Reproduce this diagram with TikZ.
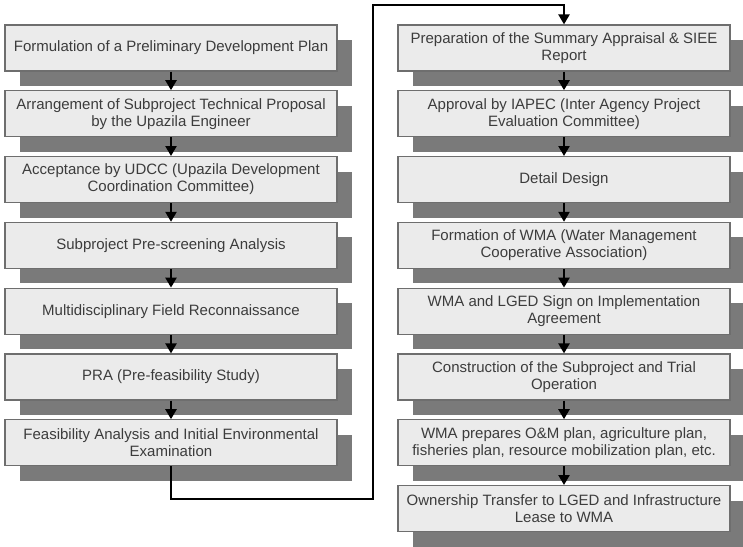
\documentclass[tikz,border=0pt]{standalone}
\usepackage{fontspec}
\setmainfont{Liberation Sans}
\usetikzlibrary{arrows.meta,shadows}
\definecolor{boxfill}{HTML}{EBEBEB}
\definecolor{boxline}{HTML}{6E6E6E}
\definecolor{shadowc}{HTML}{7A7A7A}
\definecolor{txt}{HTML}{3C3C3C}
\begin{document}
\begin{tikzpicture}[x=1pt,y=-1pt,
  stepbox/.style={draw=boxline, line width=1.2pt, fill=boxfill,
    minimum width=332pt, minimum height=46pt, inner sep=0pt,
    align=center, text=txt, font=\fontsize{15}{17}\selectfont,
    drop shadow={shadow xshift=15pt, shadow yshift=-15pt, fill=shadowc, opacity=1}},
  flow/.style={line width=2.3pt, draw=black, -{Triangle[width=11pt,length=10pt]}}]
\useasboundingbox[fill=white] (0,0) rectangle (743,546);
% left column
\node[stepbox] (l1) at (171,48) {Formulation of a Preliminary Development Plan};
\node[stepbox] (l2) at (171,113.8) {Arrangement of Subproject Technical Proposal\\by the Upazila Engineer};
\node[stepbox] (l3) at (171,179.6) {Acceptance by UDCC (Upazila Development\\Coordination Committee)};
\node[stepbox] (l4) at (171,245.4) {Subproject Pre-screening Analysis};
\node[stepbox] (l5) at (171,311.2) {Multidisciplinary Field Reconnaissance};
\node[stepbox] (l6) at (171,377) {PRA (Pre-feasibility Study)};
\node[stepbox] (l7) at (171,442.8) {Feasibility Analysis and Initial Environmental\\Examination};
% right column
\node[stepbox] (r1) at (564,48) {Preparation of the Summary Appraisal \& SIEE\\Report};
\node[stepbox] (r2) at (564,113.8) {Approval by IAPEC (Inter Agency Project\\Evaluation Committee)};
\node[stepbox] (r3) at (564,179.6) {Detail Design};
\node[stepbox] (r4) at (564,245.4) {Formation of WMA (Water Management\\Cooperative Association)};
\node[stepbox] (r5) at (564,311.2) {WMA and LGED Sign on Implementation\\Agreement};
\node[stepbox] (r6) at (564,377) {Construction of the Subproject and Trial\\Operation};
\node[stepbox] (r7) at (564,442.8) {WMA prepares O\&M plan, agriculture plan,\\fisheries plan, resource mobilization plan, etc.};
\node[stepbox] (r8) at (564,508.6) {Ownership Transfer to LGED and Infrastructure\\Lease to WMA};
% arrows
\foreach \a/\b in {l1/l2,l2/l3,l3/l4,l4/l5,l5/l6,l6/l7,r1/r2,r2/r3,r3/r4,r4/r5,r5/r6,r6/r7,r7/r8}
  \draw[flow] (\a.south) -- (\b.north);
\coordinate (c1) at (171,499);
\coordinate (c2) at (373,499);
\coordinate (c3) at (373,5);
\coordinate (c4) at (564,5);
\draw[flow] (l7.south) -- (c1) -- (c2) -- (c3) -- (c4) -- (r1.north);
\end{tikzpicture}
\end{document}
